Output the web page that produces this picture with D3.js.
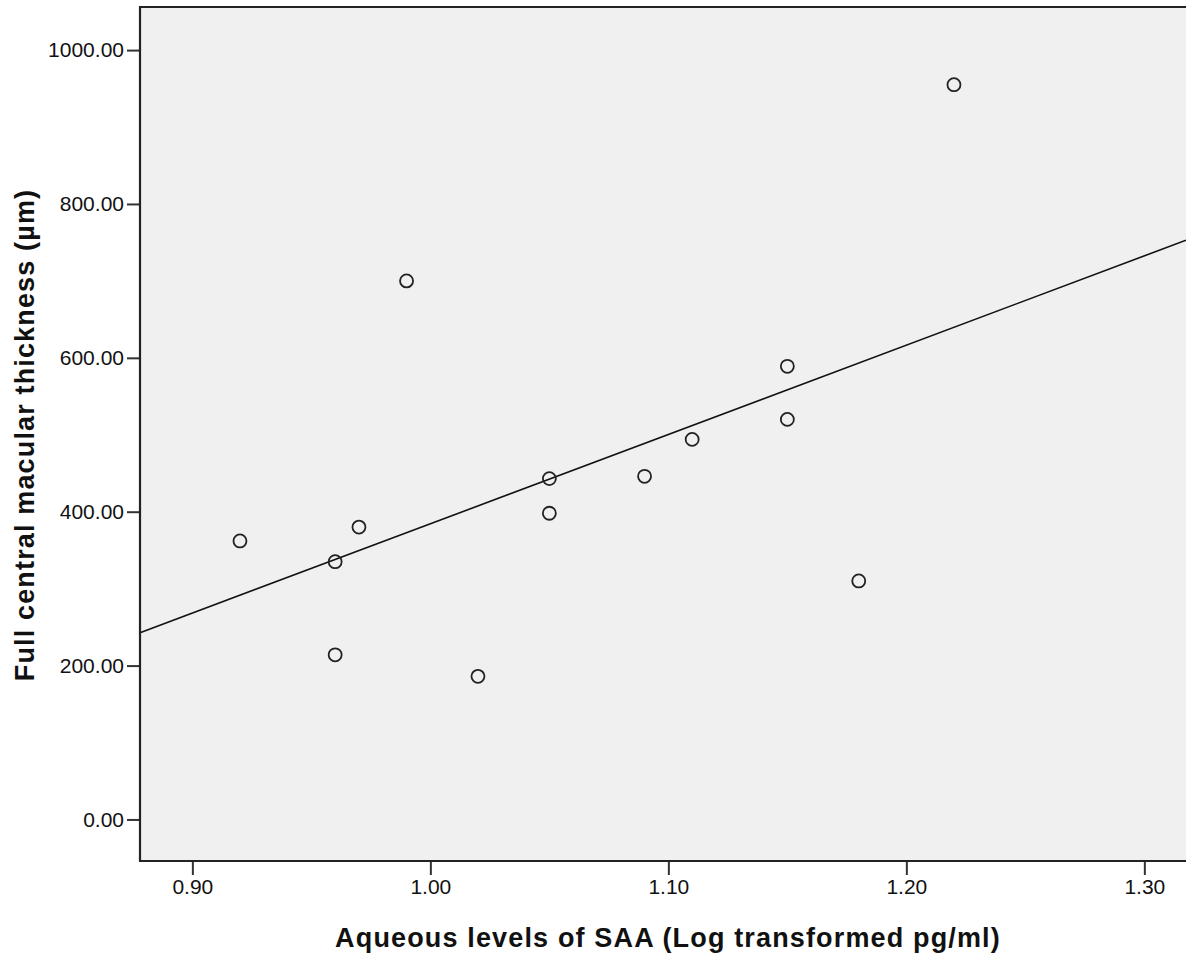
<!DOCTYPE html>
<html>
<head>
<meta charset="utf-8">
<script src="https://cdn.jsdelivr.net/npm/d3@7"></script>
<style>
  body { margin: 0; background: #fff; }
  svg text { font-family: "Liberation Sans", Arial, sans-serif; fill: #111; }
</style>
</head>
<body>
<div id="chart"></div>
<script>
// SAA (log pg/ml) vs full central macular thickness (µm)
var saa = [0.92, 0.96, 0.96, 0.97, 0.99, 1.02, 1.05, 1.05, 1.09, 1.11, 1.15, 1.15, 1.18, 1.22]
var thickness = [362, 335, 214, 380, 700, 186, 443, 398, 446, 494, 589, 520, 310, 955]
var xTicks = [0.90, 1.00, 1.10, 1.20, 1.30]
var yTicks = [0, 200, 400, 600, 800, 1000]

const W = 1186, H = 957
const plot = {left: 140, top: 7, right: 1186, bottom: 861}

var svg = d3.select("#chart").append("svg")
    .attr("width", W)
    .attr("height", H)

var x = d3.scaleLinear().domain([0.878, 1.3175]).range([plot.left, plot.right])
var y = d3.scaleLinear().domain([-54, 1056]).range([plot.bottom, plot.top])

// plot background
svg.append("rect")
    .attr("x", plot.left).attr("y", plot.top)
    .attr("width", plot.right - plot.left)
    .attr("height", plot.bottom - plot.top)
    .attr("fill", "#f0f0f0")

// least squares fit line
var data = saa.map((d, i) => ({x: d, y: thickness[i]}))
var mx = d3.mean(saa), my = d3.mean(thickness)
var sxy = d3.sum(data, d => (d.x - mx) * (d.y - my))
var sxx = d3.sum(data, d => (d.x - mx) * (d.x - mx))
var slope = sxy / sxx, icpt = my - slope * mx
var x0 = x.domain()[0], x1 = x.domain()[1]
svg.append("line")
    .attr("x1", x(x0)).attr("y1", y(icpt + slope * x0))
    .attr("x2", x(x1)).attr("y2", y(icpt + slope * x1))
    .attr("stroke", "#111")
    .attr("stroke-width", 1.6)

// points
svg.append("g")
    .selectAll("circle")
    .data(data)
    .join("circle")
    .attr("cx", d => x(d.x))
    .attr("cy", d => y(d.y))
    .attr("r", 6.5)
    .attr("fill", "none")
    .attr("stroke", "#222")
    .attr("stroke-width", 1.8)

// axes
var yAxis = svg.append("g")
    .attr("transform", `translate(${plot.left}, 0)`)
    .call(d3.axisLeft(y).tickValues(yTicks).tickFormat(d3.format(".2f")).tickSize(13).tickPadding(3))
var xAxis = svg.append("g")
    .attr("transform", `translate(0, ${plot.bottom})`)
    .call(d3.axisBottom(x).tickValues(xTicks).tickFormat(d3.format(".2f")).tickSize(14).tickPadding(4))
svg.selectAll(".domain").remove()
svg.selectAll(".tick line").attr("stroke", "#333").attr("stroke-width", 2)
svg.selectAll(".tick text").attr("font-size", 21).attr("fill", "#111")
    .style("font-family", '"Liberation Sans", Arial, sans-serif')

// frame (left, top, bottom)
var frame = svg.append("g").attr("stroke", "#222").attr("stroke-width", 2.2)
frame.append("line").attr("x1", plot.left).attr("y1", plot.top).attr("x2", plot.left).attr("y2", plot.bottom)
frame.append("line").attr("x1", plot.left - 1).attr("y1", plot.top).attr("x2", plot.right).attr("y2", plot.top)
frame.append("line").attr("x1", plot.left - 1).attr("y1", plot.bottom).attr("x2", plot.right).attr("y2", plot.bottom)

// titles
svg.append("text")
    .attr("x", 668).attr("y", 947)
    .attr("text-anchor", "middle")
    .attr("font-size", 27)
    .attr("font-weight", "bold")
    .attr("letter-spacing", 1.15)
    .text("Aqueous levels of SAA (Log transformed pg/ml)")
svg.append("text")
    .attr("transform", "translate(34, 435) rotate(-90)")
    .attr("text-anchor", "middle")
    .attr("font-size", 27)
    .attr("font-weight", "bold")
    .attr("letter-spacing", 1.15)
    .text("Full central macular thickness (µm)")
</script>
</body>
</html>
